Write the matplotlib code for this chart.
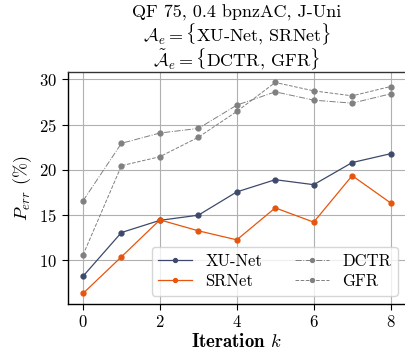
import matplotlib
matplotlib.use("Agg")
import matplotlib.pyplot as plt

plt.rcParams["font.family"] = "serif"
plt.rcParams["font.serif"] = ["cmr10"]
plt.rcParams["mathtext.fontset"] = "cm"
plt.rcParams["axes.formatter.use_mathtext"] = True

iterations = [0, 1, 2, 3, 4, 5, 6, 7, 8]
xunet = [8.2, 13.05, 14.4, 14.97, 17.55, 18.9, 18.35, 20.8, 21.78]
srnet = [6.3, 10.36, 14.45, 13.24, 12.24, 15.78, 14.2, 19.35, 16.33]
dctr = [16.55, 22.93, 24.07, 24.58, 27.16, 28.63, 27.71, 27.38, 28.41]
gfr = [10.55, 20.45, 21.45, 23.6, 26.46, 29.67, 28.74, 28.19, 29.22]

navy = "#3d4a6b"
orange = "#e6550d"
gray = "#808080"

fig = plt.figure(figsize=(4.06, 3.56), dpi=100)
ax = fig.add_axes([0.1665, 0.146, 0.8335, 0.652])

ax.plot(iterations, xunet, color=navy, lw=0.9, marker="o", ms=3.5, label="XU-Net")
ax.plot(iterations, srnet, color=orange, lw=0.9, marker="o", ms=3.5, label="SRNet")
ax.plot(iterations, dctr, color=gray, lw=0.7, ls="-.", marker="o", ms=3.5, label="DCTR")
ax.plot(iterations, gfr, color=gray, lw=0.7, ls="--", marker="o", ms=3.5, label="GFR")

ax.set_xticks([0, 2, 4, 6, 8])
ax.set_yticks([10, 15, 20, 25, 30])
ax.tick_params(labelsize=12, length=4, width=0.8)
ax.grid(True, color="#b0b0b0", lw=0.8)
ax.set_axisbelow(True)
for s in ax.spines.values():
    s.set_linewidth(1.0)
    s.set_color("#333333")
ax.spines["left"].set_color("black")
ax.spines["bottom"].set_color("black")

ax.set_xlabel(r"$\mathbf{Iteration}$ $k$", fontsize=13.5, labelpad=2)
ax.set_ylabel(r"$P_{err}$ (%)", fontsize=13)

ax.legend(loc="lower right", ncol=2, fontsize=12, handlelength=2,
          columnspacing=2, borderpad=0.4, labelspacing=0.3, markerscale=0.8)

fig.text(0.583, 0.963, "QF 75, 0.4 bpnzAC, J-Uni", ha="center", va="center", fontsize=13)
fig.text(0.583, 0.903, r"$\mathcal{A}_e = \{$XU-Net, SRNet$\}$", ha="center", va="center", fontsize=13)
fig.text(0.583, 0.832, r"$\tilde{\mathcal{A}}_e = \{$DCTR, GFR$\}$", ha="center", va="center", fontsize=13)

fig.savefig("out.png", dpi=100)
